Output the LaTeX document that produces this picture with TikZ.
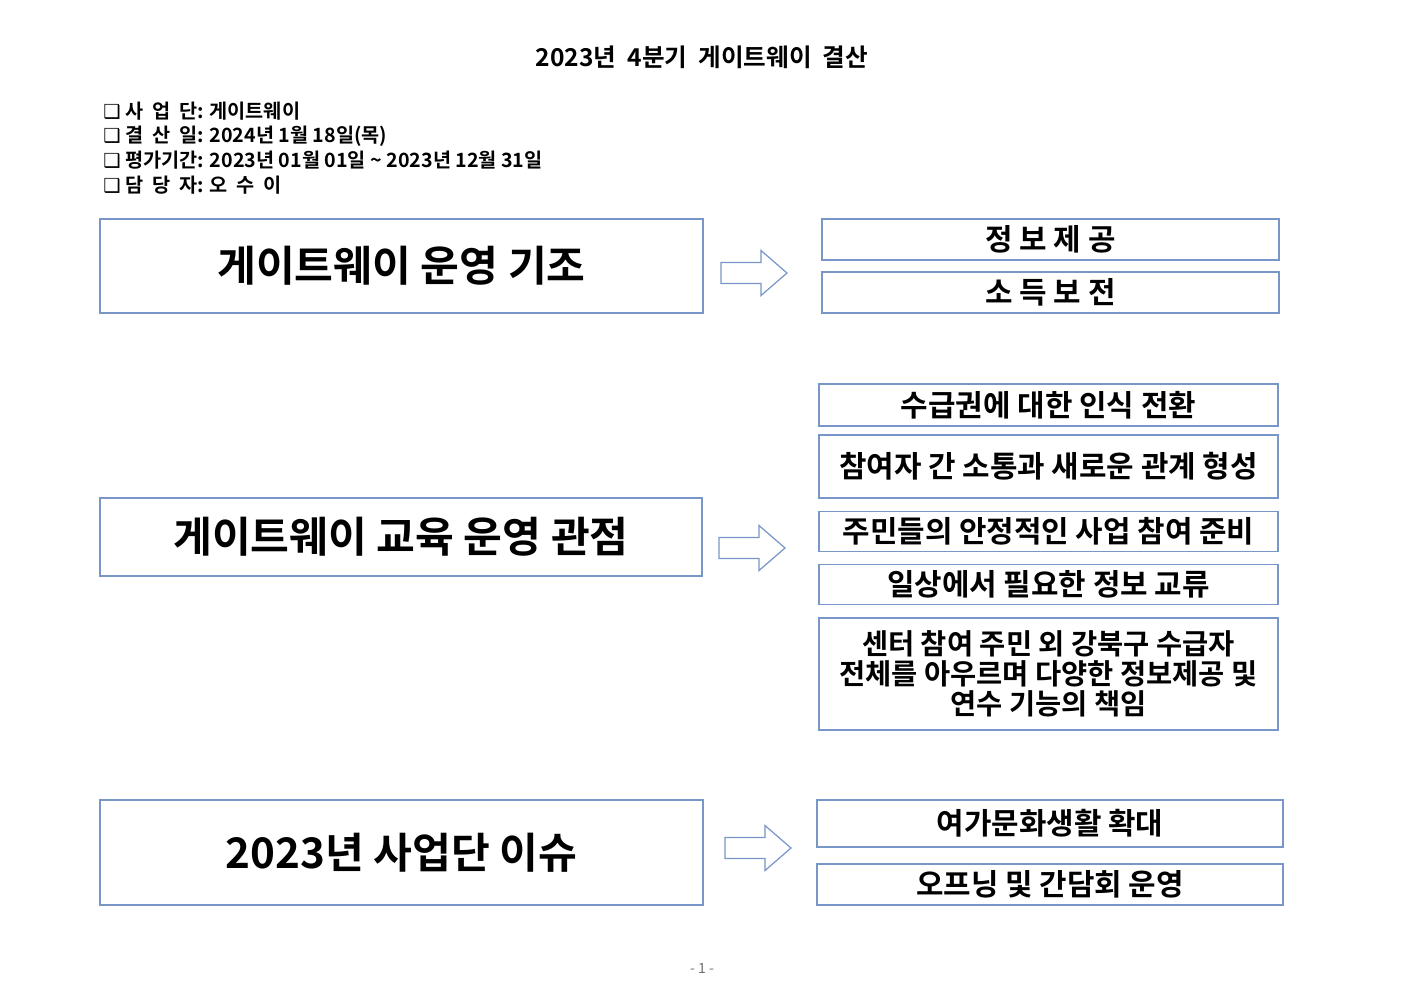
\documentclass[tikz,border=0pt]{standalone}
\usepackage{fontspec}
\setmainfont{Noto Sans CJK KR}[BoldFont={* Bold}]
\newfontfamily\symfont{DejaVu Sans}
\definecolor{boxline}{RGB}{120,150,200}
\definecolor{pagegray}{RGB}{110,110,110}

\tikzset{
  mainbox/.style={draw=boxline,line width=0.7pt,font=\bfseries\fontsize{24}{28}\selectfont,align=center},
  subbox/.style={draw=boxline,line width=0.7pt,font=\bfseries\fontsize{17}{17}\selectfont,align=center},
  infoline/.style={anchor=west,inner sep=0pt,font=\bfseries\fontsize{11.2}{13}\selectfont},
  blockarrow/.style={draw=boxline,line width=0.7pt,fill=white,line join=miter}
}

% block arrow from a named start point (left middle of the shaft)
\newcommand{\fatarrow}[1]{%
  \draw[blockarrow] (#1) ++(0,-10.5) -- ++(40,0) -- ++(0,-12) -- ++(26,22.5)
    -- ++(-26,22.5) -- ++(0,-12) -- ++(-40,0) -- cycle;}
\newcommand{\bullbox}{{\symfont\fontsize{11}{12}\selectfont ❑}\ }

\begin{document}
\begin{tikzpicture}[x=0.02cm,y=-0.02cm]
  \useasboundingbox (0,0) rectangle (1403,992);

  % title and header
  \node[font=\bfseries\fontsize{14}{16}\selectfont] (title) at (702,57) {2023년\ \ 4분기\ \ 게이트웨이\ \ 결산};
  \node[infoline] (info1) at (103,111) {\bullbox 사\ \ 업\ \ 단: 게이트웨이};
  \node[infoline] (info2) at (103,136) {\bullbox 결\ \ 산\ \ 일: 2024년\ 1월\ 18일(목)};
  \node[infoline] (info3) at (103,160) {\bullbox 평가기간: 2023년 01월 01일 \textasciitilde\ 2023년 12월 31일};
  \node[infoline] (info4) at (103,185) {\bullbox 담\ \ 당\ \ 자: 오\ \ 수\ \ 이};

  % first row
  \node[mainbox,minimum width=603*0.02cm,minimum height=94*0.02cm] (base) at (401.5,266) {게이트웨이 운영 기조};
  \coordinate (arr1) at (721,273);
  \fatarrow{arr1}
  \node[subbox,minimum width=457*0.02cm,minimum height=41*0.02cm] (info) at (1050.5,239.5) {정 보 제 공};
  \node[subbox,minimum width=457*0.02cm,minimum height=41*0.02cm] (income) at (1050.5,292.5) {소 득 보 전};

  % second row
  \node[mainbox,minimum width=602*0.02cm,minimum height=78*0.02cm] (edu) at (401,537) {게이트웨이 교육 운영 관점};
  \coordinate (arr2) at (719,548);
  \fatarrow{arr2}
  \node[subbox,minimum width=459*0.02cm,minimum height=42*0.02cm] (right) at (1048.5,405) {수급권에 대한 인식 전환};
  \node[subbox,minimum width=459*0.02cm,minimum height=63*0.02cm] (talk) at (1048.5,466.5) {참여자 간 소통과 새로운 관계 형성};
  \node[subbox,minimum width=459*0.02cm,minimum height=39*0.02cm] (ready) at (1048.5,531.5) {주민들의 안정적인 사업 참여 준비};
  \node[subbox,minimum width=459*0.02cm,minimum height=39*0.02cm] (share) at (1048.5,584.5) {일상에서 필요한 정보 교류};
  \node[subbox,font=\bfseries\fontsize{16.2}{17}\selectfont,minimum width=459*0.02cm,minimum height=112*0.02cm] (center) at (1048.5,674) {센터 참여 주민 외 강북구 수급자\\전체를 아우르며 다양한 정보제공 및\\연수 기능의 책임};

  % third row
  \node[mainbox,minimum width=603*0.02cm,minimum height=105*0.02cm] (issue) at (401.5,852.5) {2023년 사업단 이슈};
  \coordinate (arr3) at (725,848);
  \fatarrow{arr3}
  \node[subbox,minimum width=466*0.02cm,minimum height=47*0.02cm] (leisure) at (1050,823.5) {여가문화생활 확대};
  \node[subbox,minimum width=466*0.02cm,minimum height=41*0.02cm] (open) at (1050,884.5) {오프닝 및 간담회 운영};

  % page number
  \node[text=pagegray,font=\fontsize{8}{9}\selectfont] (page) at (702,968) {- 1 -};
\end{tikzpicture}
\end{document}
